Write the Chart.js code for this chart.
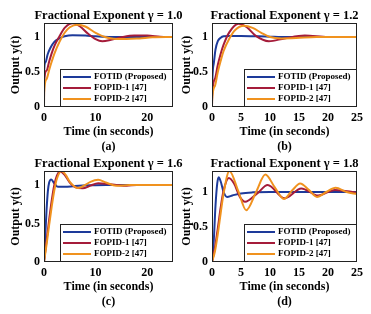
<!DOCTYPE html>
<html>
<head>
<meta charset="utf-8">
<script src="https://cdn.jsdelivr.net/npm/chart.js@4.4.0/dist/chart.umd.min.js"></script>
<style>
  html, body { margin: 0; padding: 0; background: #fff; }
  #wrap { position: relative; width: 371px; height: 314px; overflow: hidden; }
  canvas { position: absolute; }
</style>
</head>
<body>
<div id="wrap">
  <canvas id="plotA"></canvas>
  <canvas id="plotB"></canvas>
  <canvas id="plotC"></canvas>
  <canvas id="plotD"></canvas>
</div>
<script>
// Series names and tick labels
const seriesNames = ["FOTID (Proposed)", "FOPID-1 [47]", "FOPID-2 [47]"];
const yTicks = [0, 0.5, 1];
const xTicksNarrow = [0, 10, 20];
const xTicksWide = [0, 5, 10, 15, 20, 25];

// (a) gamma = 1.0
const tFotidA = [0, 0.02, 0.3, 0.7, 1.2, 2, 3, 4, 5.5, 8, 10, 13, 25];
const yFotidA = [0, 0.5, 0.64, 0.75, 0.84, 0.93, 0.98, 1.01, 1.025, 1.02, 1.01, 1.0, 1.0];
const tPid1A = [0, 0.02, 0.5, 1, 1.5, 2, 3, 4, 5.6, 7, 8.5, 10, 11.3, 13, 15, 17.5, 20, 22.5, 25];
const yPid1A = [0, 0.35, 0.52, 0.65, 0.77, 0.87, 1.01, 1.13, 1.195, 1.15, 1.05, 0.97, 0.94, 0.96, 0.995, 1.02, 1.02, 1.005, 1.0];
const tPid2A = [0, 0.02, 0.5, 1, 1.5, 2, 3, 4, 5, 6.6, 8, 10, 11.8, 13.5, 16, 18.5, 21, 25];
const yPid2A = [0, 0.2, 0.4, 0.53, 0.65, 0.76, 0.93, 1.06, 1.14, 1.175, 1.15, 1.06, 1.0, 0.975, 0.97, 0.98, 0.995, 1.0];

// (b) gamma = 1.2
const tFotidB = [0, 0.02, 0.3, 0.6, 1, 1.5, 2, 3, 5, 8, 10, 12, 25];
const yFotidB = [0, 0.25, 0.62, 0.82, 0.94, 0.99, 1.01, 1.015, 1.015, 1.01, 1.005, 1.0, 1.0];
const tPid1B = [0, 0.02, 0.5, 1, 1.5, 2, 3, 4.6, 6, 7.5, 9.8, 12.5, 16, 20, 25];
const yPid1B = [0, 0.15, 0.4, 0.6, 0.76, 0.89, 1.07, 1.19, 1.14, 1.02, 0.94, 0.98, 1.02, 1.0, 1.0];
const tPid2B = [0, 0.02, 0.5, 1, 1.5, 2, 3, 4, 5.5, 7, 8.5, 10, 12, 14.5, 18, 25];
const yPid2B = [0, 0.1, 0.3, 0.5, 0.66, 0.8, 0.98, 1.1, 1.16, 1.13, 1.06, 1.0, 0.98, 0.985, 1.0, 1.0];

// (c) gamma = 1.6
const tFotidC = [0, 0.25, 0.5, 0.75, 1.0, 1.4, 2, 2.7, 4, 6, 9, 12, 25];
const yFotidC = [0, 0.35, 0.68, 0.92, 1.03, 1.07, 1.02, 0.975, 0.975, 0.985, 0.995, 1.0, 1.0];
const tPid1C = [0, 0.5, 1, 1.5, 2, 2.5, 3.2, 4, 5, 6, 7.5, 9, 10.5, 12.5, 14, 16, 18, 25];
const yPid1C = [0, 0.28, 0.55, 0.8, 1.0, 1.12, 1.175, 1.13, 1.03, 0.97, 0.955, 0.99, 1.02, 1.01, 1.0, 0.99, 1.0, 1.0];
const tPid2C = [0, 0.5, 1, 1.5, 2, 2.5, 3.4, 4.2, 5, 6.6, 8, 9, 10.5, 12, 14, 16, 18, 25];
const yPid2C = [0, 0.23, 0.48, 0.72, 0.93, 1.08, 1.18, 1.13, 1.04, 0.96, 1.0, 1.04, 1.065, 1.03, 0.99, 0.995, 1.0, 1.0];

// (d) gamma = 1.8
const tFotidD = [0, 0.3, 0.6, 0.9, 1.15, 1.5, 2, 2.6, 3.5, 5, 7, 10, 25];
const yFotidD = [0, 0.3, 0.8, 1.12, 1.21, 1.15, 1.0, 0.93, 0.95, 0.98, 0.995, 1.0, 1.0];
const tPid1D = [0, 0.5, 1, 1.5, 2, 2.9, 3.8, 4.8, 5.7, 7.8, 9.6, 12.5, 15.4, 18.3, 21.2, 25];
const yPid1D = [0, 0.2, 0.48, 0.78, 1.02, 1.2, 1.12, 0.93, 0.86, 0.98, 1.1, 0.91, 1.05, 0.95, 1.03, 0.99];
const tPid2D = [0, 0.5, 1, 1.5, 2, 3, 4.5, 5.9, 7.6, 9.2, 10.8, 12.4, 13.8, 15.2, 16.7, 18.1, 19.7, 21.3, 23.2, 25];
const yPid2D = [0, 0.15, 0.4, 0.7, 0.98, 1.3, 1.02, 0.74, 1.0, 1.25, 1.07, 0.9, 1.02, 1.12, 1.03, 0.93, 1.0, 1.06, 1.0, 0.97];

const blue = '#1d3a9a', red = '#a51c3a', orange = '#f0921e';
const ink = '#000';

Chart.defaults.font.family = "'Liberation Serif', 'Times New Roman', serif";
Chart.defaults.font.weight = 'bold';
Chart.defaults.font.size = 12;
Chart.defaults.color = ink;

// box around axes, legend in lower right, title above and caption below
const decor = {
  id: 'decor',
  afterDraw(chart, args, opts) {
    const ctx = chart.ctx, a = chart.chartArea;
    ctx.save();
    ctx.strokeStyle = '#222';
    ctx.lineWidth = 1;
    ctx.strokeRect(a.left + 0.5, a.top + 0.5, a.right - a.left - 1, a.bottom - a.top - 1);

    const w = 113, h = 38;
    const lx = a.right - w, ly = a.bottom - h;
    ctx.fillStyle = '#fff';
    ctx.fillRect(lx, ly, w, h);
    ctx.strokeRect(lx + 0.5, ly + 0.5, w - 1, h - 1);
    ctx.font = "bold 9px 'Liberation Serif'";
    ctx.textBaseline = 'middle';
    chart.data.datasets.forEach(function (ds, i) {
      const y = ly + 8 + i * 11;
      ctx.strokeStyle = ds.borderColor;
      ctx.lineWidth = 2;
      ctx.beginPath();
      ctx.moveTo(lx + 3, y);
      ctx.lineTo(lx + 31, y);
      ctx.stroke();
      ctx.fillStyle = ink;
      ctx.fillText(ds.label, lx + 34, y);
    });

    const cx = (a.left + a.right) / 2;
    ctx.textAlign = 'center';
    ctx.font = "bold 12.5px 'Liberation Serif'";
    ctx.fillText(opts.title, cx, a.top - 7.5);
    ctx.font = "bold 12px 'Liberation Serif'";
    ctx.fillText(opts.caption, cx, a.bottom + 39.7);
    ctx.restore();
  }
};

function line(label, t, v, color, order) {
  return {
    label: label,
    data: t.map(function (x, i) { return {x: x, y: v[i]}; }),
    borderColor: color,
    borderWidth: 2,
    pointRadius: 0,
    cubicInterpolationMode: 'monotone',
    fill: false,
    order: order
  };
}

function makePlot(id, o) {
  const cv = document.getElementById(id);
  cv.width = o.w;
  cv.height = o.h;
  cv.style.left = o.left + 'px';
  cv.style.top = o.top + 'px';
  new Chart(cv, {
    type: 'line',
    data: {
      datasets: [
        line(seriesNames[0], o.t[0], o.v[0], blue, 2),
        line(seriesNames[1], o.t[1], o.v[1], red, 1),
        line(seriesNames[2], o.t[2], o.v[2], orange, 0)
      ]
    },
    options: {
      responsive: false,
      animation: false,
      layout: { padding: { left: 0, right: o.padRight, top: 23, bottom: 0 } },
      plugins: {
        legend: { display: false },
        tooltip: { enabled: false },
        decor: { title: o.title, caption: o.caption }
      },
      scales: {
        x: {
          type: 'linear', min: 0, max: 25,
          afterBuildTicks: function (s) { s.ticks = o.xTicks.map(function (v) { return {value: v}; }); },
          afterFit: function (s) { s.height = 50; },
          grid: { display: false, drawTicks: false },
          border: { display: false },
          ticks: { padding: 3.3, autoSkip: false, maxRotation: 0, callback: function (v) { return String(v); } },
          title: { display: true, text: 'Time (in seconds)', padding: { top: 0, bottom: 17.8 } }
        },
        y: {
          min: 0, max: o.yMax,
          afterBuildTicks: function (s) { s.ticks = yTicks.map(function (v) { return {value: v}; }); },
          afterFit: function (s) { s.width = o.axisW; },
          grid: { display: false, drawTicks: false },
          border: { display: false },
          ticks: { padding: 4, autoSkip: false, callback: function (v) { return String(v); } },
          title: { display: true, text: 'Output y(t)', padding: { top: o.yTitlePad, bottom: 0 } }
        }
      }
    },
    plugins: [decor]
  });
}

makePlot('plotA', { left: 0, top: 0, w: 186, h: 157, axisW: 44, padRight: 13, yTitlePad: 8.8,
  yMax: 1.2, xTicks: xTicksNarrow, title: 'Fractional Exponent \u03b3 = 1.0', caption: '(a)',
  t: [tFotidA, tPid1A, tPid2A], v: [yFotidA, yPid1A, yPid2A] });
makePlot('plotB', { left: 180, top: 0, w: 191, h: 157, axisW: 32, padRight: 14, yTitlePad: 0,
  yMax: 1.2, xTicks: xTicksWide, title: 'Fractional Exponent \u03b3 = 1.2', caption: '(b)',
  t: [tFotidB, tPid1B, tPid2B], v: [yFotidB, yPid1B, yPid2B] });
makePlot('plotC', { left: 0, top: 148, w: 186, h: 164, axisW: 44, padRight: 13, yTitlePad: 8.8,
  yMax: 1.18, xTicks: xTicksNarrow, title: 'Fractional Exponent \u03b3 = 1.6', caption: '(c)',
  t: [tFotidC, tPid1C, tPid2C], v: [yFotidC, yPid1C, yPid2C] });
makePlot('plotD', { left: 180, top: 148, w: 191, h: 164, axisW: 32, padRight: 14, yTitlePad: 0,
  yMax: 1.3, xTicks: xTicksWide, title: 'Fractional Exponent \u03b3 = 1.8', caption: '(d)',
  t: [tFotidD, tPid1D, tPid2D], v: [yFotidD, yPid1D, yPid2D] });
</script>
</body>
</html>
